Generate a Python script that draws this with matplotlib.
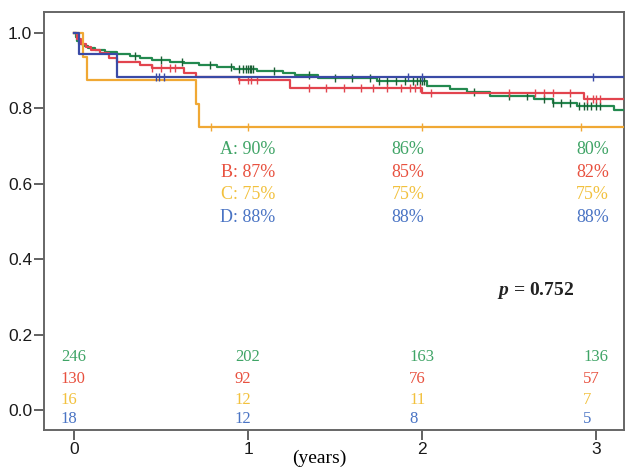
import numpy as np
import matplotlib
matplotlib.use("Agg")
import matplotlib.pyplot as plt

plt.rcParams['font.family'] = ['Liberation Sans', 'DejaVu Sans']
plt.rcParams['mathtext.fontset'] = 'custom'
plt.rcParams['mathtext.it'] = 'Liberation Serif:italic:bold'
plt.rcParams['mathtext.rm'] = 'Liberation Serif'

groups = ['A', 'B', 'C', 'D']

# Kaplan-Meier step data (time in years, survival after step)
a_times = [0, 0.01, 0.02, 0.03, 0.05, 0.08, 0.12, 0.18, 0.25, 0.32, 0.38, 0.45, 0.55, 0.63,
           0.72, 0.82, 0.92, 1.05, 1.2, 1.27, 1.4, 1.74, 2.03, 2.16, 2.26, 2.39, 2.64, 2.75, 2.89, 3.1]
a_surv = [1.0, 0.99, 0.98, 0.972, 0.965, 0.96, 0.955, 0.95, 0.945, 0.94, 0.935, 0.928, 0.924, 0.92,
          0.915, 0.91, 0.905, 0.90, 0.895, 0.888, 0.88, 0.872, 0.86, 0.852, 0.843, 0.832, 0.824, 0.815, 0.806, 0.797]
b_times = [0, 0.02, 0.04, 0.07, 0.1, 0.15, 0.2, 0.25, 0.38, 0.45, 0.63, 0.7, 0.95, 1.24, 2.0, 2.93]
b_surv = [1.0, 0.985, 0.97, 0.962, 0.955, 0.947, 0.935, 0.923, 0.915, 0.907, 0.895, 0.883, 0.875, 0.855, 0.84, 0.825]
c_times = [0, 0.05, 0.077, 0.70, 0.72]
c_surv = [1.0, 0.9375, 0.875, 0.8125, 0.75]
d_times = [0, 0.03, 0.25]
d_surv = [1.0, 0.944, 0.883]

# censoring marks
a_cens = [0.35, 0.5, 0.62, 0.78, 0.9, 0.95, 0.97, 0.99, 1.0, 1.01, 1.02, 1.03, 1.15, 1.35, 1.5, 1.6,
          1.7, 1.75, 1.8, 1.85, 1.9, 1.95, 1.97, 1.99, 2.0, 2.01, 2.3, 2.5, 2.6, 2.7, 2.75, 2.8, 2.85,
          2.9, 2.93, 2.95, 2.97, 3.0, 3.02]
b_cens = [0.45, 0.5, 0.55, 0.58, 0.95, 1.0, 1.02, 1.05, 1.35, 1.45, 1.55, 1.65, 1.72, 1.8, 1.88,
          1.93, 1.96, 1.99, 2.05, 2.5, 2.65, 2.7, 2.75, 2.85, 2.95, 2.98, 3.0, 3.02]
c_cens = [0.79, 1.0, 2.0, 2.91]
d_cens = [0.47, 0.49, 0.52, 1.92, 2.0, 2.98]

# survival rate labels at 1, 2, 3 years
rate_1y = ['90%', '87%', '75%', '88%']
rate_2y = ['86%', '85%', '75%', '88%']
rate_3y = ['80%', '82%', '75%', '88%']

# numbers at risk at 0, 1, 2, 3 years
risk_times = [0, 1, 2, 3]
risk_a = [246, 202, 163, 136]
risk_b = [130, 92, 76, 57]
risk_c = [16, 12, 11, 7]
risk_d = [18, 12, 8, 5]

p_value = 0.752

line_colors = ['#23894f', '#e2444e', '#f0a834', '#3a4aa6']
cens_colors = ['#1b5e34', '#e2444e', '#f0a834', '#3a4aa6']
text_colors = ['#3fa466', '#e8513f', '#f2c13e', '#4a74c4']

XMAX = 3.16
fig = plt.figure(figsize=(6.32, 4.70), dpi=100)
ax = fig.add_axes([0.0696, 0.085, 0.9178, 0.8895])

curves = [(a_times, a_surv, a_cens), (b_times, b_surv, b_cens),
          (c_times, c_surv, c_cens), (d_times, d_surv, d_cens)]
order = [2, 3, 1, 0]
for i in order:
    t, s, cens = curves[i]
    tt = list(t) + [XMAX]
    ss = list(s) + [s[-1]]
    ax.step(tt, ss, where='post', color=line_colors[i], lw=1.6, zorder=3 + i)
    idx = np.searchsorted(np.array(t), np.array(cens), side='right') - 1
    cy = np.array(s)[idx]
    ax.plot(cens, cy, linestyle='none', marker='|', markersize=6, mew=1.0,
            color=cens_colors[i], zorder=3 + i)

ax.set_xlim(-0.172, XMAX)
ax.set_ylim(-0.053, 1.056)
ax.set_xticks([0, 1, 2, 3])
ax.set_yticks([0.0, 0.2, 0.4, 0.6, 0.8, 1.0])
ax.set_yticklabels(['0.0', '0.2', '0.4', '0.6', '0.8', '1.0'])
ax.tick_params(axis='both', labelsize=12.5, length=7, width=1.3, color='#555555', pad=1.5,
               labelcolor='#1a1a1a')
for sp in ax.spines.values():
    sp.set_color('#666666')
    sp.set_linewidth(1.4)

serif = ['Liberation Serif', 'DejaVu Serif']
row_y = [0.69, 0.631, 0.573, 0.512]
for i, g in enumerate(groups):
    ax.text(1.0, row_y[i], f'{g}: {rate_1y[i]}', color=text_colors[i], family=serif,
            fontsize=13, ha='center', va='center')
    ax.text(1.92, row_y[i], rate_2y[i], color=text_colors[i], family=serif,
            fontsize=13, ha='center', va='center')
    ax.text(2.98, row_y[i], rate_3y[i], color=text_colors[i], family=serif,
            fontsize=13, ha='center', va='center')

risk_rows = [risk_a, risk_b, risk_c, risk_d]
risk_y = [0.14, 0.082, 0.028, -0.025]
for i, row in enumerate(risk_rows):
    for t, n in zip(risk_times, row):
        ax.text(t - 0.075, risk_y[i], str(n), color=text_colors[i], family=serif,
                fontsize=12, ha='left', va='center')

ax.text(2.43, 0.318, r'$p$ = ' + f'{p_value}', family=serif, fontsize=14,
        fontweight='bold', ha='left', va='center', color='#222222')

ax.text(1.41, -0.067, '(years)', transform=ax.get_xaxis_transform(), family=serif,
        fontsize=14, ha='center', va='center')

fig.savefig('out.png', dpi=100)
